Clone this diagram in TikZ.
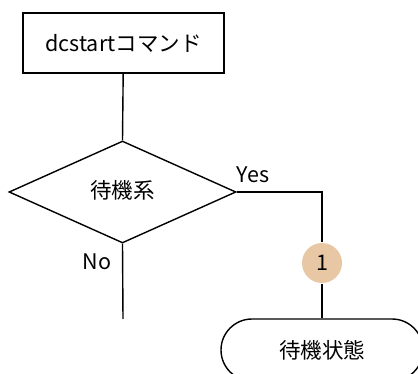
\documentclass[tikz,border=0pt]{standalone}
\usepackage{fontspec}
\setmainfont{Noto Sans CJK JP}
\usetikzlibrary{shapes.geometric,shapes.misc}
\definecolor{tan}{HTML}{E8C7A5}
\tikzstyle{procbox}=[rectangle,draw=black,line width=1.4pt,
                     minimum width=201pt,minimum height=60pt,inner sep=0pt]
\tikzstyle{decision}=[diamond,draw=black,line width=1.4pt,aspect=2.23,
                      minimum width=227pt,minimum height=102pt,inner sep=0pt]
\tikzstyle{terminal}=[rounded rectangle,draw=black,line width=1.4pt,
                      minimum width=202pt,minimum height=62pt,inner sep=0pt]
\tikzstyle{marker}=[circle,fill=tan,inner sep=0pt,minimum size=40pt]

\begin{document}
\begin{tikzpicture}[x=1pt,y=-1pt,line width=1.4pt,font=\fontsize{21.5}{26}\selectfont]
    \useasboundingbox (0,0) rectangle (418,374);
    \node (cmd) at (123.5,43) [procbox]{dcstartコマンド};
    \node (wait) at (122.5,192) [decision]{};
    \node at (122.5,190) {待機系};
    \node (mark) at (322,263) [marker]{1};
    \node (state) at (322,350) [terminal]{待機状態};
    \coordinate (yesbend) at (322,192);
    \coordinate (noend) at (123,319);
    \draw (cmd) -- (wait.north);
    \draw (wait.east) -- (yesbend) -- (mark);
    \draw (mark) -- (state);
    \draw (wait.south) -- (noend);
    \node at (253,175) {Yes};
    \node at (97,262) {No};
  \end{tikzpicture}
\end{document}
